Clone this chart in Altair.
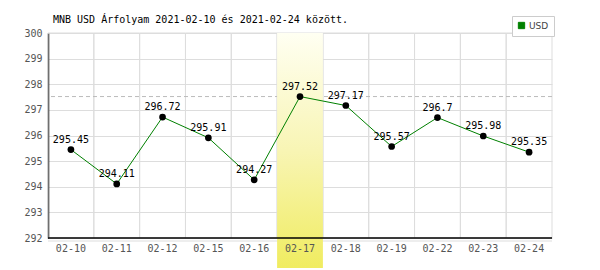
import altair as alt
import pandas as pd

dates = ["02-10", "02-11", "02-12", "02-15", "02-16", "02-17", "02-18", "02-19", "02-22", "02-23", "02-24"]
values = [295.45, 294.11, 296.72, 295.91, 294.27, 297.52, 297.17, 295.57, 296.7, 295.98, 295.35]
value_labels = ["295.45", "294.11", "296.72", "295.91", "294.27", "297.52", "297.17", "295.57", "296.7", "295.98", "295.35"]
highlight_date = "02-17"
max_value = 297.52
y_min, y_max = 292, 300
title_text = "MNB USD Árfolyam 2021-02-10 és 2021-02-24 között."
series_name = "USD"

df = pd.DataFrame({"date": dates, "value": values, "label": value_labels, "series": series_name})
hl = pd.DataFrame({"date": [highlight_date]})
ref = pd.DataFrame({"value": [max_value]})
tdf = pd.DataFrame({"t": [title_text]})

MONO = "DejaVu Sans Mono"
W, H = 504, 205

xscale = alt.Scale(domain=dates, paddingInner=0, paddingOuter=0)
yscale = alt.Scale(domain=[y_min, y_max], nice=False, zero=False)

X = alt.X("date:O", scale=xscale, sort=dates, title=None,
          axis=alt.Axis(title=None, domain=False, ticks=False, grid=False, labelAngle=0,
                        labelFont=MONO, labelFontSize=10, labelColor="#555555",
                        labelPadding=5, zindex=2))
Y = alt.Y("value:Q", scale=yscale, title=None,
          axis=alt.Axis(title=None, values=list(range(y_min, y_max + 1)), grid=True,
                        gridColor="#dddddd", domain=True, domainColor="#000000",
                        domainWidth=1.5, ticks=False, labelFont=MONO, labelFontSize=10,
                        labelColor="#555555", labelPadding=6, labelOverlap=False,
                        labelFlush=False, zindex=0))

base = alt.Chart(df)

cells = base.mark_rect(fill=None, stroke="#dddddd", strokeWidth=1).encode(
    x=X, y=alt.value(0), y2=alt.value(H))

dash = alt.Chart(ref).mark_rule(color="#bbbbbb", strokeDash=[4, 3], strokeWidth=1).encode(y=Y)

under = alt.Chart(ref).mark_rule(color="#dddddd", strokeWidth=1).encode(
    x=alt.value(0), x2=alt.value(W), y=alt.value(H + 3))

band = alt.Chart(hl).mark_rect(
    fill=alt.Gradient(gradient="linear",
                      stops=[alt.GradientStop(color="#fffff2", offset=0),
                             alt.GradientStop(color="#f8f5b4", offset=0.5),
                             alt.GradientStop(color="#f0ec60", offset=1)],
                      x1=0, x2=0, y1=0, y2=1)
).encode(x=X, y=alt.value(0), y2=alt.value(H + 30))

bottom = alt.Chart(ref).mark_rule(color="#000000", strokeWidth=1.5).encode(
    x=alt.value(0), x2=alt.value(W), y=alt.value(H))

line = base.mark_line(strokeWidth=1).encode(
    x=X, y=Y,
    color=alt.Color("series:N", scale=alt.Scale(range=["#008000"]),
                    legend=alt.Legend(orient="none", legendX=464, legendY=-17, title=None,
                                      strokeColor="#cccccc", fillColor="white", padding=5,
                                      symbolType="square", symbolSize=40,
                                      symbolFillColor="#008000", symbolStrokeColor="#004400",
                                      symbolStrokeWidth=1,
                                      labelFont="DejaVu Sans", labelFontSize=9, labelColor="#444444",
                                      labelOffset=3)))

points = base.mark_circle(size=45, color="#000000", opacity=1).encode(x=X, y=Y)

labels = base.mark_text(font=MONO, fontSize=10, color="#000000", dy=-10, baseline="middle").encode(
    x=X, y=Y, text="label:N")

title = alt.Chart(tdf).mark_text(font=MONO, fontSize=10, color="#000000", align="left",
                                 baseline="alphabetic").encode(
    x=alt.value(5), y=alt.value(-10), text="t:N")

chart = alt.layer(cells, dash, under, band, bottom, line, points, labels, title).properties(
    width=W, height=H,
    autosize=alt.AutoSizeParams(type="none"),
    padding={"left": 48, "top": 33, "right": 48, "bottom": 32},
).configure_view(stroke=None)

chart.save("out.html", embed_options={"renderer": "svg", "actions": False})
